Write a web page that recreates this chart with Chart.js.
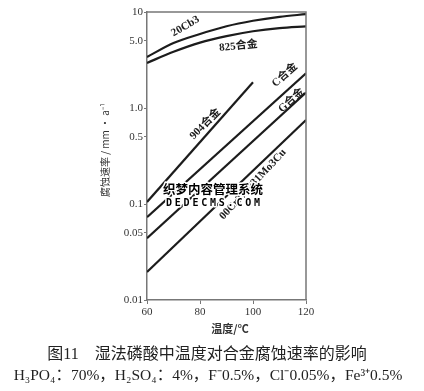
<!DOCTYPE html>
<html>
<head>
<meta charset="utf-8">
<script src="https://cdn.jsdelivr.net/npm/chart.js@4"></script>
<style>
  body { margin: 0; background: #fff; }
  #wrap { width: 424px; height: 391px; }
</style>
</head>
<body>
<div id="wrap"><canvas id="chart" width="424" height="391"></canvas></div>
<script>
// temperature (°C) for the two curved series
const curveTemps = [60, 70, 80, 90, 100, 110, 120];
const cb3Rates = [3.4, 4.75, 5.9, 7.1, 8.1, 8.9, 9.5];    // 20Cb3
const a825Rates = [2.95, 3.85, 4.8, 5.6, 6.3, 6.8, 7.1];  // 825合金
// straight lines (log scale), end points
const a904Temps = [60, 100];
const a904Rates = [0.105, 1.85];
const lineTemps = [60, 120];
const cRates = [0.073, 2.3];
const gRates = [0.044, 1.45];
const crRates = [0.0196, 0.75];  // 00Cr27Ni31Mo3Cu

const seriesNames = ['20Cb3', '825合金', '904合金', 'C合金', 'G合金', '00Cr27Ni31Mo3Cu'];
const xTicks = [60, 80, 100, 120];
const yTicks = [0.01, 0.05, 0.1, 0.5, 1, 5, 10];
const yTickLabels = ['0.01', '0.05', '0.1', '0.5', '1.0', '5.0', '10'];

const xTitle = '温度/℃';
const yTitle = '腐蚀速率 / mm · a⁻¹';
const caption1 = '图11　湿法磷酸中温度对合金腐蚀速率的影响';
const caption2 = 'H₃PO₄：70%，H₂SO₄：4%，F⁻0.5%，Cl⁻0.05%，Fe³⁺0.5%';

function pts(xs, ys) {
    return xs.map((x, i) => ({ x: x, y: ys[i] }));
}

const ink = '#1c1c1c';

// in-chart series labels: [name, x, y, angle in degrees]
const labelSpots = [
    [seriesNames[0], 74.5, 7.1, -30],
    [seriesNames[1], 94.5, 4.4, -6],
    [seriesNames[2], 82, 0.68, -45],
    [seriesNames[3], 112, 2.2, -42],
    [seriesNames[4], 114.5, 1.2, -42],
    [seriesNames[5], 100, 0.16, -47]
];

const extras = {
    id: 'extras',
    afterDraw(chart) {
        const ctx = chart.ctx;
        const a = chart.chartArea;
        const xs = chart.scales.x, ys = chart.scales.y;
        ctx.save();
        // top and right sides of the box
        ctx.strokeStyle = '#777';
        ctx.lineWidth = 1.5;
        ctx.beginPath();
        ctx.moveTo(a.left, a.top);
        ctx.lineTo(a.right, a.top);
        ctx.lineTo(a.right, a.bottom);
        ctx.stroke();

        // series labels
        ctx.fillStyle = ink;
        ctx.textAlign = 'center';
        ctx.textBaseline = 'middle';
        labelSpots.forEach(l => {
            ctx.save();
            ctx.translate(xs.getPixelForValue(l[1]), ys.getPixelForValue(l[2]));
            ctx.rotate(l[3] * Math.PI / 180);
            ctx.font = 'bold 11px "Liberation Serif", "Noto Sans CJK SC"';
            ctx.fillText(l[0], 0, 0);
            ctx.restore();
        });

        // axis titles
        ctx.fillStyle = '#333';
        ctx.font = 'bold 11px "Noto Sans CJK SC", "Liberation Serif"';
        ctx.fillText(xTitle, 230, 329);
        ctx.save();
        ctx.translate(105, 150);
        ctx.rotate(-Math.PI / 2);
        ctx.font = '10px "Noto Sans CJK SC", "Liberation Sans"';
        ctx.fillText(yTitle, 0, 0);
        ctx.restore();

        // captions
        ctx.fillStyle = '#222';
        ctx.font = '16px "Liberation Serif", "Noto Sans CJK SC"';
        ctx.fillText(caption1, 207, 355);
        ctx.font = '15.5px "Liberation Serif", "Noto Sans CJK SC"';
        ctx.fillText(caption2, 208, 376);

        // watermark
        ctx.lineJoin = 'round';
        ctx.strokeStyle = '#fff';
        ctx.lineWidth = 3;
        ctx.fillStyle = '#000';
        ctx.font = 'bold 12.5px "Noto Sans CJK SC"';
        ctx.strokeText('织梦内容管理系统', 213, 189);
        ctx.fillText('织梦内容管理系统', 213, 189);
        ctx.font = 'bold 10px "DejaVu Sans Mono"';
        const wm = 'DEDECMS.COM';
        const step = 8.8;
        for (let i = 0; i < wm.length; i++) {
            const cx = 213 + (i - (wm.length - 1) / 2) * step;
            ctx.strokeText(wm[i], cx, 203);
            ctx.fillText(wm[i], cx, 203);
        }
        ctx.restore();
    }
};

Chart.defaults.font.family = '"Liberation Serif", "Noto Sans CJK SC", serif';
Chart.defaults.color = '#333';

const lineStyle = {
    borderColor: ink,
    borderWidth: 2.2,
    pointRadius: 0,
    fill: false
};

new Chart(document.getElementById('chart'), {
    type: 'line',
    data: {
        datasets: [
            Object.assign({ label: seriesNames[0], data: pts(curveTemps, cb3Rates), cubicInterpolationMode: 'monotone' }, lineStyle),
            Object.assign({ label: seriesNames[1], data: pts(curveTemps, a825Rates), cubicInterpolationMode: 'monotone' }, lineStyle),
            Object.assign({ label: seriesNames[2], data: pts(a904Temps, a904Rates) }, lineStyle),
            Object.assign({ label: seriesNames[3], data: pts(lineTemps, cRates) }, lineStyle),
            Object.assign({ label: seriesNames[4], data: pts(lineTemps, gRates) }, lineStyle),
            Object.assign({ label: seriesNames[5], data: pts(lineTemps, crRates) }, lineStyle)
        ]
    },
    options: {
        responsive: false,
        animation: false,
        devicePixelRatio: 1,
        layout: { padding: { left: 107, right: 118, top: 12, bottom: 71 } },
        plugins: {
            legend: { display: false },
            tooltip: { enabled: false }
        },
        scales: {
            x: {
                type: 'linear',
                min: 60,
                max: 120,
                afterBuildTicks: axis => { axis.ticks = xTicks.map(v => ({ value: v })); },
                afterFit: s => { s.height = 20; },
                ticks: { font: { size: 11 }, color: '#333', padding: 2, maxRotation: 0 },
                grid: { drawOnChartArea: false, tickLength: 4, color: '#777' },
                border: { display: true, color: '#777', width: 1.5 }
            },
            y: {
                type: 'logarithmic',
                min: 0.01,
                max: 10,
                afterBuildTicks: axis => { axis.ticks = yTicks.map(v => ({ value: v })); },
                afterFit: s => { s.width = 40; },
                ticks: {
                    font: { size: 11 },
                    color: '#333',
                    padding: 1,
                    callback: v => yTickLabels[yTicks.indexOf(v)]
                },
                grid: { drawOnChartArea: false, tickLength: 3, color: '#777' },
                border: { display: true, color: '#777', width: 1.5 }
            }
        }
    },
    plugins: [extras]
});
</script>
</body>
</html>
